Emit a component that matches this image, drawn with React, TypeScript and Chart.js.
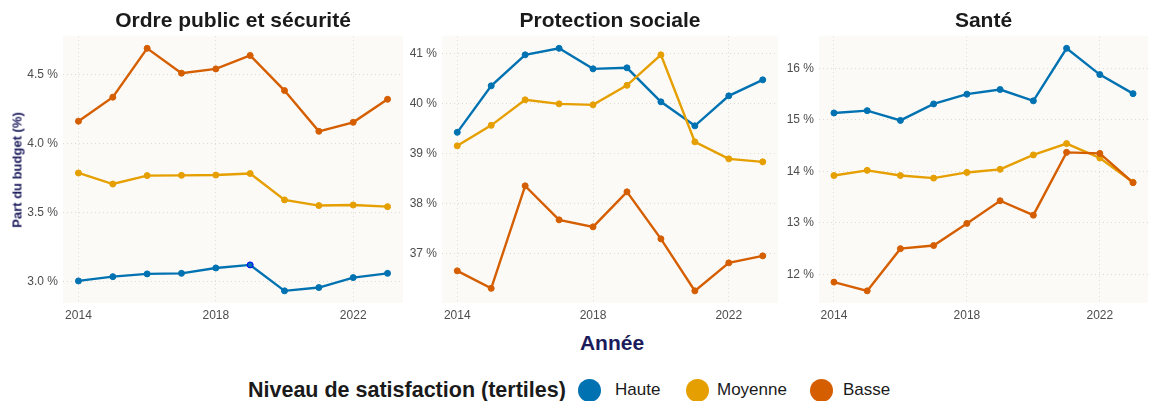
import React, { useEffect, useRef } from "react";
import { Chart, registerables } from "chart.js";

Chart.register(...registerables);

const FONT = "'Liberation Sans', Arial, Helvetica, sans-serif";

const years = [2014, 2015, 2016, 2017, 2018, 2019, 2020, 2021, 2022, 2023];
const xTickValues = [2014, 2018, 2022];

const seriesNames = ["Haute", "Moyenne", "Basse"];
const seriesColors = ["#0072B2", "#E69F00", "#D55E00"];

// Ordre public et sécurité
const ordreHaute = [3.005, 3.036, 3.056, 3.06, 3.099, 3.121, 2.933, 2.957, 3.029, 3.06];
const ordreMoyenne = [3.787, 3.707, 3.768, 3.77, 3.772, 3.783, 3.592, 3.551, 3.555, 3.543];
const ordreBasse = [4.162, 4.336, 4.69, 4.51, 4.541, 4.638, 4.384, 4.089, 4.154, 4.321];
const ordreTicks = [3.0, 3.5, 4.0, 4.5];

// Protection sociale
const socialHaute = [39.42, 40.35, 40.97, 41.1, 40.69, 40.71, 40.03, 39.55, 40.15, 40.47];
const socialMoyenne = [39.15, 39.56, 40.07, 39.99, 39.97, 40.36, 40.97, 39.23, 38.89, 38.83];
const socialBasse = [36.65, 36.3, 38.35, 37.67, 37.53, 38.23, 37.29, 36.25, 36.81, 36.95];
const socialTicks = [37, 38, 39, 40, 41];

// Santé
const santeHaute = [15.135, 15.18, 14.99, 15.31, 15.5, 15.59, 15.37, 16.39, 15.88, 15.51];
const santeMoyenne = [13.92, 14.02, 13.92, 13.87, 13.98, 14.04, 14.32, 14.54, 14.26, 13.79];
const santeBasse = [11.85, 11.68, 12.5, 12.56, 12.99, 13.43, 13.15, 14.37, 14.35, 13.78];
const santeTicks = [12, 13, 14, 15, 16];

const bgPlugin = {
  id: "panelBg",
  beforeDraw(chart: any) {
    const a = chart.chartArea;
    if (!a) return;
    const ctx = chart.ctx;
    ctx.save();
    ctx.fillStyle = "#FBFAF6";
    ctx.fillRect(a.left, a.top, a.right - a.left, a.bottom - a.top);
    ctx.restore();
  },
};

type PanelProps = {
  title: string;
  series: number[][];
  yTicks: number[];
  decimals: number;
  left: number;
  width: number;
  yWidth: number;
  padRight: number;
  highlight?: { series: number; index: number };
};

function Panel(p: PanelProps) {
  const ref = useRef<HTMLCanvasElement | null>(null);
  useEffect(() => {
    if (!ref.current) return;
    const all = p.series.flat();
    const dMin = Math.min(...all);
    const dMax = Math.max(...all);
    const exp = (dMax - dMin) * 0.05;
    const xExp = (years[years.length - 1] - years[0]) * 0.05;
    const chart = new Chart(ref.current, {
      type: "line",
      data: {
        datasets: p.series.map((vals, i) => ({
          label: seriesNames[i],
          data: years.map((y, j) => ({ x: y, y: vals[j] })),
          borderColor: seriesColors[i],
          backgroundColor: seriesColors[i],
          pointBackgroundColor: seriesColors[i],
          pointBorderColor: years.map((_, j) =>
            p.highlight && p.highlight.series === i && p.highlight.index === j ? "#0000FF" : seriesColors[i]
          ),
          pointBorderWidth: 1,
          borderWidth: 2.4,
          pointRadius: 3,
          tension: 0,
          order: 2 - i,
        })),
      },
      options: {
        animation: false,
        responsive: false,
        maintainAspectRatio: false,
        layout: { padding: { left: 0, right: p.padRight, top: 0, bottom: 0 } },
        plugins: {
          legend: { display: false },
          tooltip: { enabled: false },
          title: {
            display: true,
            text: p.title,
            fullSize: false,
            color: "#1a1a1a",
            font: { family: FONT, size: 21, weight: "bold" },
            padding: { top: 9, bottom: 2 },
          },
        },
        scales: {
          x: {
            type: "linear",
            min: years[0] - xExp,
            max: years[years.length - 1] + xExp,
            afterBuildTicks: (s: any) => {
              s.ticks = xTickValues.map((v) => ({ value: v }));
            },
            afterFit: (s: any) => {
              s.height = 27;
            },
            ticks: {
              callback: (v: any) => String(v),
              color: "#4D4D4D",
              font: { family: FONT, size: 12 },
              padding: 5,
              maxRotation: 0,
              autoSkip: false,
            },
            grid: { color: "#DEDBD3", lineWidth: 1, drawTicks: false },
            border: { display: false, dash: [1, 3] },
          },
          y: {
            type: "linear",
            min: dMin - exp,
            max: dMax + exp,
            afterBuildTicks: (s: any) => {
              s.ticks = p.yTicks.map((v) => ({ value: v }));
            },
            afterFit: (s: any) => {
              s.width = p.yWidth;
            },
            ticks: {
              callback: (v: any) => Number(v).toFixed(p.decimals) + " %",
              color: "#4D4D4D",
              font: { family: FONT, size: 12 },
              padding: 5,
              autoSkip: false,
            },
            grid: { color: "#DEDBD3", lineWidth: 1, drawTicks: false },
            border: { display: false, dash: [1, 3] },
          },
        },
      },
      plugins: [bgPlugin],
    } as any);
    return () => chart.destroy();
  }, []);
  return (
    <canvas
      ref={ref}
      width={p.width}
      height={330}
      style={{ position: "absolute", left: p.left, top: 0, width: p.width, height: 330 }}
    />
  );
}

export default function App() {
  const legendItems = [
    { x: 589, labelX: 615 },
    { x: 697, labelX: 717 },
    { x: 821, labelX: 843 },
  ];
  return (
    <div
      style={{
        position: "absolute",
        left: 0,
        top: 0,
        width: 1153,
        height: 401,
        background: "#FFFFFF",
        fontFamily: FONT,
        overflow: "hidden",
      }}
    >
      <Panel
        title="Ordre public et sécurité"
        series={[ordreHaute, ordreMoyenne, ordreBasse]}
        yTicks={ordreTicks}
        decimals={1}
        left={0}
        width={408}
        yWidth={63}
        padRight={5}
        highlight={{ series: 0, index: 5 }}
      />
      <Panel
        title="Protection sociale"
        series={[socialHaute, socialMoyenne, socialBasse]}
        yTicks={socialTicks}
        decimals={0}
        left={408}
        width={375}
        yWidth={34}
        padRight={3}
      />
      <Panel
        title="Santé"
        series={[santeHaute, santeMoyenne, santeBasse]}
        yTicks={santeTicks}
        decimals={0}
        left={783}
        width={370}
        yWidth={36}
        padRight={3}
      />
      <div
        style={{
          position: "absolute",
          left: 17,
          top: 170,
          transform: "translate(-50%, -50%) rotate(-90deg)",
          whiteSpace: "nowrap",
          fontWeight: "bold",
          fontSize: 13,
          lineHeight: "15px",
          color: "#1B1B5C",
        }}
      >
        Part du budget (%)
      </div>
      <div
        style={{
          position: "absolute",
          left: 612,
          top: 343,
          transform: "translate(-50%, -50%)",
          whiteSpace: "nowrap",
          fontWeight: "bold",
          fontSize: 21,
          lineHeight: "24px",
          color: "#1B1B5C",
        }}
      >
        Année
      </div>
      <div
        style={{
          position: "absolute",
          left: 248,
          top: 390,
          transform: "translateY(-50%)",
          whiteSpace: "nowrap",
          fontWeight: "bold",
          fontSize: 21.5,
          lineHeight: "26px",
          color: "#1a1a1a",
        }}
      >
        Niveau de satisfaction (tertiles)
      </div>
      {legendItems.map((it, i) => (
        <React.Fragment key={seriesNames[i]}>
          <div
            style={{
              position: "absolute",
              left: it.x - 11.5,
              top: 390 - 11.5,
              width: 23,
              height: 23,
              borderRadius: "50%",
              background: seriesColors[i],
            }}
          />
          <div
            style={{
              position: "absolute",
              left: it.labelX,
              top: 390,
              transform: "translateY(-50%)",
              whiteSpace: "nowrap",
              fontSize: 17,
              lineHeight: "20px",
              color: "#1a1a1a",
            }}
          >
            {seriesNames[i]}
          </div>
        </React.Fragment>
      ))}
    </div>
  );
}
